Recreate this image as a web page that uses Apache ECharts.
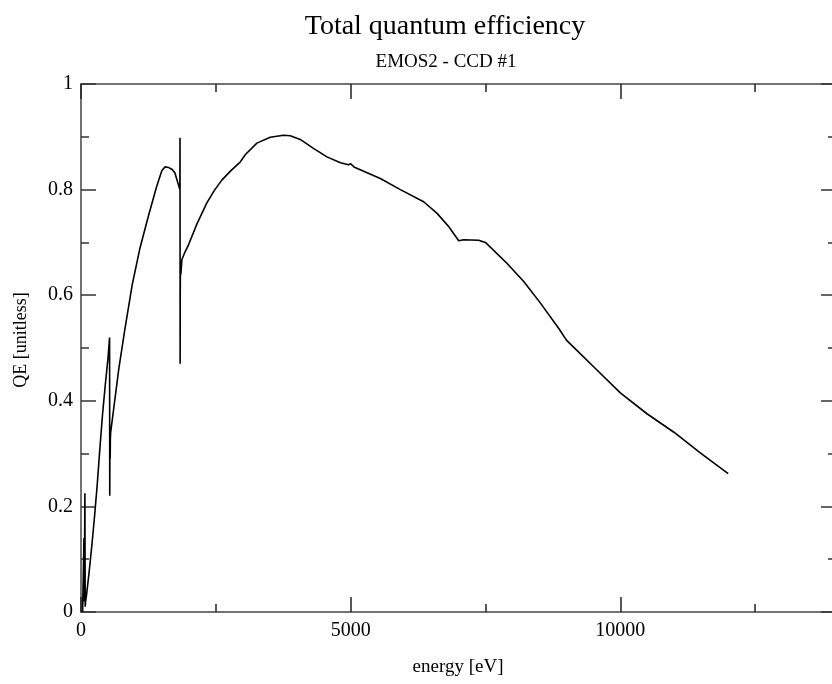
<!DOCTYPE html>
<html>
<head>
<meta charset="utf-8">
<script src="https://cdn.jsdelivr.net/npm/echarts@6/dist/echarts.min.js"></script>
<style>
html,body{margin:0;padding:0;background:#fff;}
#chart{width:832px;height:684px;}
</style>
</head>
<body>
<div id="chart"></div>
<script>
// ---- data ----
var titleText = 'Total quantum efficiency';
var subtitleText = 'EMOS2 - CCD #1';
var xAxisName = 'energy [eV]';
var yAxisName = 'QE [unitless]';

var energy = [
  30, 55, 62, 72, 78, 85, 100, 150, 200, 250, 300, 350, 400, 450, 500, 530,
  533, 537, 541, 545, 550, 600, 700, 811, 950, 1095, 1250, 1400, 1500, 1560,
  1620, 1690, 1740, 1780, 1810, 1833, 1836, 1838, 1840, 1845, 1852, 1870, 1920,
  1992, 2150, 2333, 2470, 2611, 2780, 2951, 3044, 3261, 3508, 3755, 3879, 4065,
  4310, 4560, 4810, 4960, 5000, 5060, 5550, 5921, 6353, 6602, 6817, 7003, 7096,
  7374, 7498, 7901, 8209, 8519, 8859, 9000, 9500, 10000, 10500, 11000, 11500, 12000
];
var qe = [
  0.0, 0.14, 0.02, 0.225, 0.01, 0.02, 0.03, 0.075, 0.125, 0.18, 0.24, 0.31, 0.375, 0.43, 0.48, 0.52,
  0.22, 0.35, 0.29, 0.33, 0.34, 0.38, 0.46, 0.534, 0.62, 0.69, 0.75, 0.805, 0.836, 0.843,
  0.842, 0.838, 0.832, 0.818, 0.808, 0.80, 0.898, 0.47, 0.60, 0.665, 0.64, 0.667, 0.68,
  0.695, 0.735, 0.775, 0.798, 0.818, 0.836, 0.852, 0.866, 0.888, 0.899, 0.903, 0.902, 0.895,
  0.878, 0.862, 0.851, 0.847, 0.849, 0.843, 0.821, 0.80, 0.777, 0.755, 0.73, 0.703, 0.705,
  0.704, 0.70, 0.66, 0.626, 0.585, 0.537, 0.515, 0.465, 0.415, 0.375, 0.34, 0.30, 0.262
];

var xMin = 0, xMax = 15000, xStep = 5000;
var yMin = 0, yMax = 1, yStep = 0.2;

var points = energy.map(function (e, i) { return [e, qe[i]]; });

var serif = '"Liberation Serif", "DejaVu Serif", serif';
var frameColor = '#444';
function plainNum(v) { return String(Math.round(v * 1000) / 1000); }

function xAx(pos, showLabel) {
  return {
    type: 'value', position: pos, min: xMin, max: xMax, interval: xStep,
    axisLine: { show: true, onZero: false, lineStyle: { color: frameColor, width: 1.5 } },
    axisTick: { show: true, inside: true, length: 15, lineStyle: { color: '#222', width: 1.5 } },
    minorTick: { show: true, splitNumber: 2, length: 8, lineStyle: { color: '#222', width: 1.5 } },
    splitLine: { show: false },
    axisLabel: { show: showLabel, margin: 9, color: '#000', fontFamily: serif, fontSize: 20, formatter: plainNum }
  };
}
function yAx(pos, showLabel, offset) {
  return {
    type: 'value', position: pos, offset: offset, min: yMin, max: yMax, interval: yStep,
    axisLine: { show: true, onZero: false, lineStyle: { color: frameColor, width: 1.5 } },
    axisTick: { show: true, inside: true, length: 15, lineStyle: { color: '#333', width: 1.5 } },
    minorTick: { show: true, splitNumber: 2, length: 8, lineStyle: { color: '#333', width: 1.5 } },
    splitLine: { show: false },
    axisLabel: { show: showLabel, margin: 8, color: '#000', fontFamily: serif, fontSize: 20, formatter: plainNum }
  };
}

var chart = echarts.init(document.getElementById('chart'), null, { renderer: 'canvas' });
chart.setOption({
  animation: false,
  backgroundColor: '#fff',
  title: [
    { text: titleText, left: 440, top: 8, textAlign: 'center',
      textStyle: { fontFamily: serif, fontSize: 28, fontWeight: 'normal', color: '#000' } },
    { text: subtitleText, left: 441, top: 48, textAlign: 'center',
      textStyle: { fontFamily: serif, fontSize: 19, fontWeight: 'normal', color: '#000' } }
  ],
  grid: { left: 81, top: 84, width: 809, height: 528, containLabel: false, outerBoundsMode: 'none' },
  xAxis: [ xAx('bottom', true), xAx('top', false) ],
  yAxis: [ yAx('left', true, 0), yAx('right', false, -54) ],
  graphic: [
    { type: 'text', x: 458, y: 667,
      style: { text: xAxisName, font: '19px ' + serif, fill: '#000', textAlign: 'center', textVerticalAlign: 'middle' } },
    { type: 'text', x: 21, y: 340, rotation: Math.PI / 2,
      style: { text: yAxisName, font: '18px ' + serif, fill: '#000', textAlign: 'center', textVerticalAlign: 'middle' } }
  ],
  series: [{
    type: 'line', xAxisIndex: 0, yAxisIndex: 0, data: points,
    showSymbol: false, symbol: 'none', smooth: false,
    lineStyle: { color: '#000', width: 1.6 }
  }]
});
</script>
</body>
</html>
